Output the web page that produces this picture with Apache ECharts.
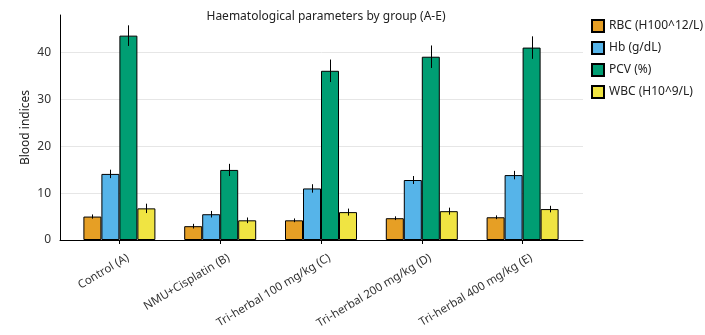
<!DOCTYPE html>
<html><head><meta charset="utf-8">
<script src="https://cdn.jsdelivr.net/npm/echarts@6/dist/echarts.min.js"></script>
<style>html,body{margin:0;padding:0;background:#fff}#c{width:705px;height:335px}</style>
</head><body><div id="c"></div>
<script>
var categories = ['Control (A)', 'NMU+Cisplatin (B)', 'Tri-herbal 100 mg/kg (C)', 'Tri-herbal 200 mg/kg (D)', 'Tri-herbal 400 mg/kg (E)'];
var seriesNames = ['RBC (H100^12/L)', 'Hb (g/dL)', 'PCV (%)', 'WBC (H10^9/L)'];
var rbc = [5.0, 2.95, 4.2, 4.65, 4.85];
var hb = [14.1, 5.5, 11.0, 12.8, 13.85];
var pcv = [43.6, 14.95, 36.1, 39.1, 41.05];
var wbc = [6.75, 4.2, 5.95, 6.15, 6.6];
var rbcErr = [0.45, 0.5, 0.4, 0.4, 0.4];
var hbErr = [0.9, 0.7, 0.9, 0.85, 0.9];
var pcvErr = [2.2, 1.3, 2.4, 2.4, 2.4];
var wbcErr = [1.0, 0.6, 0.75, 0.75, 0.7];
var yTicks = {min: 0, max: 48, interval: 10};

var colors = ['#E69F25', '#56B4E9', '#009E73', '#F0E442'];
var values = [rbc, hb, pcv, wbc];
var errs = [rbcErr, hbErr, pcvErr, wbcErr];
var barW = 18;
var font = 'Noto Sans';

var series = [];
values.forEach(function (v, i) {
  series.push({
    name: seriesNames[i], type: 'bar', xAxisIndex: 1, yAxisIndex: 1,
    data: v, barWidth: barW, barGap: '0%',
    itemStyle: {color: colors[i], borderColor: '#000', borderWidth: 1},
    emphasis: {disabled: true}
  });
});
values.forEach(function (v, i) {
  var data = v.map(function (val, j) { return [j, val - errs[i][j], val + errs[i][j]]; });
  series.push({
    name: 'err' + i, type: 'custom', xAxisIndex: 1, yAxisIndex: 1, z: 10,
    data: data,
    renderItem: function (params, api) {
      var lo = api.coord([api.value(0), api.value(1)]);
      var hi = api.coord([api.value(0), api.value(2)]);
      var off = (i - 1.5) * barW;
      var x = Math.round(lo[0] + off) + 0.5;
      return {type: 'line', shape: {x1: x, y1: lo[1], x2: x, y2: hi[1]},
        style: {stroke: '#000', lineWidth: 1}};
    }
  });
});

var chart = echarts.init(document.getElementById('c'));
chart.setOption({
  animation: false,
  textStyle: {fontFamily: font},
  title: {text: 'Haematological parameters by group (A-E)', left: 321, top: 6, textAlign: 'center',
    textStyle: {fontSize: 12, fontWeight: 'normal', color: '#222', fontFamily: font}},
  legend: {orient: 'vertical', left: 586, top: 14, itemWidth: 12, itemHeight: 12, itemGap: 8,
    data: seriesNames.map(function (n) { return {name: n, icon: 'rect'}; }),
    textStyle: {fontSize: 12, color: '#222', fontFamily: font}},
  grid: [
    {left: 60, right: 122, top: 15, bottom: 95, containLabel: false, outerBoundsMode: 'none'},
    {left: 69, right: 132, top: 15, bottom: 95, containLabel: false, outerBoundsMode: 'none'}
  ],
  xAxis: [
    {type: 'category', gridIndex: 0, data: categories, axisLine: {lineStyle: {color: '#000', width: 1}},
      axisTick: {show: false}, axisLabel: {show: false}, splitLine: {show: false}},
    {type: 'category', gridIndex: 1, data: categories, axisLine: {show: false},
      axisTick: {show: true, alignWithLabel: true, length: 4, lineStyle: {color: '#000'}},
      axisLabel: {rotate: 31, fontSize: 11.5, color: '#333', margin: 22, padding: [0, -10, 0, 0], interval: 0, fontFamily: font}}
  ],
  yAxis: [
    {type: 'value', gridIndex: 0, min: yTicks.min, max: yTicks.max, interval: yTicks.interval,
      name: 'Blood indices', nameLocation: 'middle', nameGap: 28, nameMoveOverlap: false,
      nameTextStyle: {fontSize: 12, color: '#222', fontFamily: font},
      axisLine: {show: true, lineStyle: {color: '#000'}}, axisTick: {show: false},
      axisLabel: {fontSize: 12, color: '#333', margin: 9, showMaxLabel: false, fontFamily: font},
      splitLine: {show: true, showMaxLine: false, lineStyle: {color: '#e6e6e6', width: 1}}},
    {type: 'value', gridIndex: 1, min: yTicks.min, max: yTicks.max, interval: yTicks.interval, show: false,
      splitLine: {show: false}}
  ],
  series: series
});
</script></body></html>
